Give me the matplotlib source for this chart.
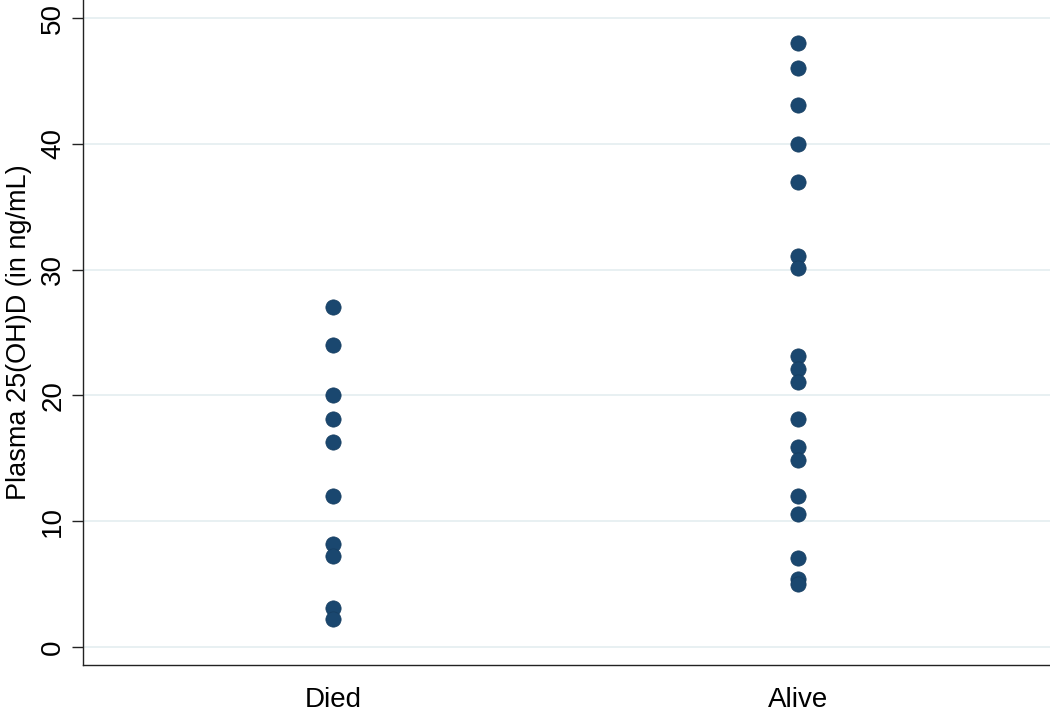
import matplotlib
matplotlib.use("Agg")
import matplotlib.pyplot as plt

categories = ["Died", "Alive"]
died_values = [27.0, 24.0, 20.0, 18.1, 16.3, 12.0, 8.2, 7.2, 3.1, 2.2]
alive_values = [48.0, 46.0, 43.1, 40.0, 37.0, 31.1, 30.1, 23.1, 22.1, 21.1,
                18.1, 15.9, 14.9, 12.0, 10.6, 7.1, 5.4, 5.0]
y_ticks = [0, 10, 20, 30, 40, 50]
y_label = "Plasma 25(OH)D (in ng/mL)"

plt.rcParams['font.family'] = ['Liberation Sans', 'DejaVu Sans']

fig = plt.figure(figsize=(10.5, 7.16), dpi=100)
ax = fig.add_axes([83/1050, 1 - 665/716, 1 - 83/1050, 665/716])

color = "#1a476f"
for i, vals in enumerate([died_values, alive_values]):
    ax.plot([i + 1] * len(vals), vals, 'o', color=color, markersize=11,
            markeredgewidth=0.5, markeredgecolor="#163d60", zorder=3)

ax.set_xlim(1 - 250/465, 2 + 252/465)
ax.set_ylim(-(665 - 647)/12.58, 50 + 18/12.58)
ax.set_xticks([1, 2])
ax.set_xticklabels(categories, fontsize=20)
ax.set_yticks(y_ticks)
ax.set_yticklabels([str(t) for t in y_ticks], fontsize=20, rotation=90, va='center')
ax.set_ylabel(y_label, fontsize=19.5, labelpad=6)

ax.grid(axis='y', color='#e4edf0', linewidth=1.2, zorder=0)
ax.set_axisbelow(True)
for s in ['top', 'right']:
    ax.spines[s].set_visible(False)
for s in ['left', 'bottom']:
    ax.spines[s].set_color('#222222')
    ax.spines[s].set_linewidth(1.0)
ax.tick_params(axis='y', length=8, width=1, color='#222222', pad=4)
ax.tick_params(axis='x', length=0, pad=16)

fig.savefig("out.png", dpi=100)
